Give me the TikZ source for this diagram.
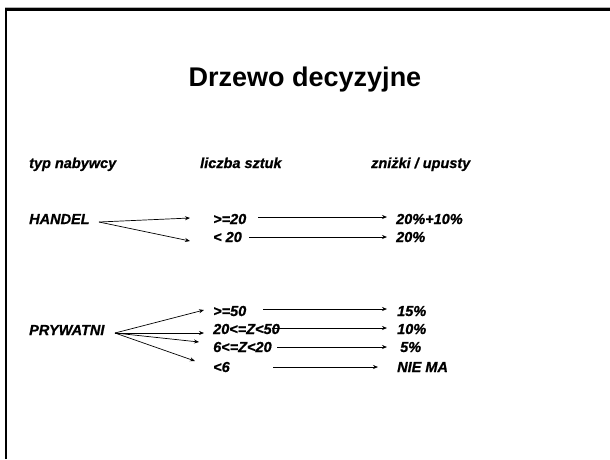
\documentclass[tikz,border=0pt]{standalone}
\usepackage{fontspec}
\setmainfont{Liberation Sans}
\newfontfamily\heavyfont{Liberation Sans}[BoldItalicFeatures={FakeBold=0.8}]
\usetikzlibrary{arrows.meta}
\begin{document}
\begin{tikzpicture}[x=1pt,y=-1pt,
  lbl/.style={anchor=base west,inner sep=0pt,font=\heavyfont\fontsize{14.5}{16}\selectfont\bfseries\itshape},
  arr/.style={draw=black,line width=0.7pt,-{Stealth[length=5pt,width=4pt]}},
  frame/.style={line width=2.5pt,black}]
\useasboundingbox (0,0) rectangle (610,459);
\fill[white] (0,0) rectangle (610,459);
% frame
\draw[gray!60,line width=1pt] (5,7.5) -- (610,7.5);
\draw[frame] (6,459) -- (6,9.5) -- (610,9.5);
% title
\node[anchor=base,inner sep=0pt,font=\fontsize{27}{30}\selectfont\bfseries] (title) at (305,86) {Drzewo decyzyjne};
% headers
\node[lbl] (h1) at (29,168) {typ nabywcy};
\node[lbl] (h2) at (200,168) {liczba sztuk};
\node[lbl] (h3) at (371,168) {zniżki / upusty};
% HANDEL branch
\node[lbl] (handel) at (29,224) {HANDEL};
\node[lbl] (hA) at (213,224) {>=20};
\node[lbl] (hB) at (213,242) {< 20};
\node[lbl] (rA) at (396,224) {20\%+10\%};
\node[lbl] (rB) at (396,242) {20\%};
\coordinate (hs) at (99,222);
\coordinate (hAt) at (190,218);
\coordinate (hBt) at (190,241);
\draw[arr] (hs) -- (hAt);
\draw[arr] (hs) -- (hBt);
\coordinate (hAs) at (258,217);
\coordinate (hAe) at (387,217);
\coordinate (hBs) at (249,237);
\coordinate (hBe) at (387,237);
\draw[arr] (hAs) -- (hAe);
\draw[arr] (hBs) -- (hBe);
% PRYWATNI branch
\node[lbl] (pryw) at (29,335) {PRYWATNI};
\node[lbl] (pA) at (213,316) {>=50};
\node[lbl] (pB) at (213,334) {20<=Z<50};
\node[lbl] (pC) at (213,352) {6<=Z<20};
\node[lbl] (pD) at (213,372) {<6};
\node[lbl] (sA) at (397,316) {15\%};
\node[lbl] (sB) at (397,334) {10\%};
\node[lbl] (sC) at (400,352) {5\%};
\node[lbl] (sD) at (397,372) {NIE MA};
\coordinate (ps) at (115,333);
\coordinate (pAt) at (204,310);
\coordinate (pBt) at (204,333);
\coordinate (pCt) at (199,342);
\coordinate (pDt) at (195,361);
\draw[arr] (ps) -- (pAt);
\draw[arr] (ps) -- (pBt);
\draw[arr] (ps) -- (pCt);
\draw[arr] (ps) -- (pDt);
\coordinate (pAs) at (263,309);
\coordinate (pAe) at (387,309);
\coordinate (pBs) at (272,328);
\coordinate (pBe) at (387,328);
\coordinate (pCs) at (277,347);
\coordinate (pCe) at (387,347);
\coordinate (pDs) at (273,367);
\coordinate (pDe) at (378,367);
\draw[arr] (pAs) -- (pAe);
\draw[arr] (pBs) -- (pBe);
\draw[arr] (pCs) -- (pCe);
\draw[arr] (pDs) -- (pDe);
\end{tikzpicture}
\end{document}
